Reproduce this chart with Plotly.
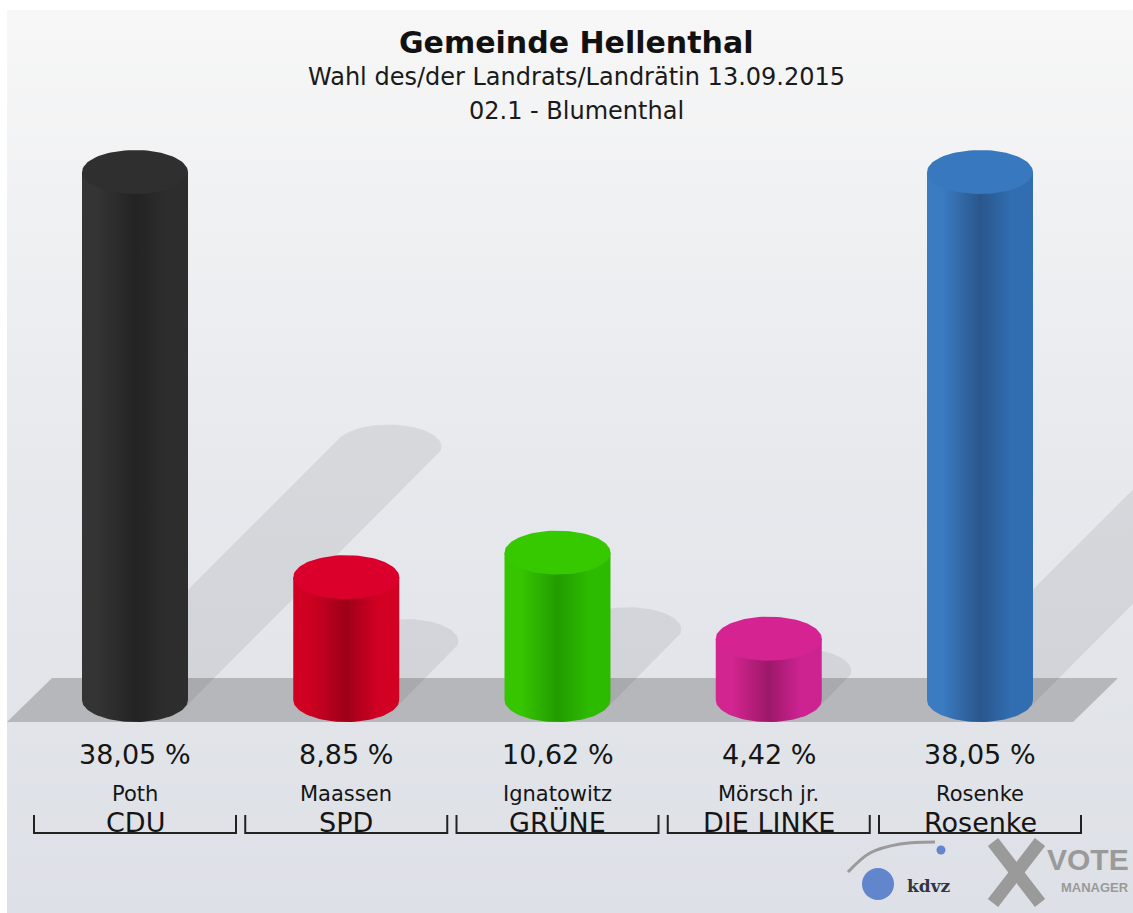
import numpy as np
import plotly.graph_objects as go

# ---------------- data ----------------
candidates = ["Poth", "Maassen", "Ignatowitz", "Mörsch jr.", "Rosenke"]
parties = ["CDU", "SPD", "GRÜNE", "DIE LINKE", "Rosenke"]
values = [38.05, 8.85, 10.62, 4.42, 38.05]

title_text = "Gemeinde Hellenthal"
subtitle_text = "Wahl des/der Landrats/Landrätin 13.09.2015"
district_text = "02.1 - Blumenthal"

# ---------------- styles ----------------
body_left = ["#343434", "#cf0021", "#36c600", "#d3258f", "#3a7bc2"]
body_dark = ["#232323", "#9e0019", "#229c00", "#9c1869", "#2a568c"]
body_right = ["#2d2d2d", "#d20023", "#2dbb00", "#cd2391", "#316eb1"]
top_color = ["#2f2f2f", "#da002b", "#36c900", "#d52491", "#3878bf"]

PAGE_W, PAGE_H = 1133, 913
OFF = 0                              # body margin removed via post_script
W, H = PAGE_W - OFF, PAGE_H - OFF    # figure size
X0, DX = 135.0, 211.25     # page pixel of first column centre, spacing between columns
Y0, DY = 700.0, 13.876     # page pixel of 0 %, pixels per percent
R_PX, RY_PX = 53.0, 22.0   # cylinder radius / ellipse half height in pixels
SHADOW_RATIO = 0.48


def xd(px):
    return (px - X0) / DX


def yd(py):
    return (Y0 - py) / DY


rx = R_PX / DX
ry = RY_PX / DY


def hull(points):
    pts = sorted(set(points))
    def cross(o, a, b):
        return (a[0] - o[0]) * (b[1] - o[1]) - (a[1] - o[1]) * (b[0] - o[0])
    lower, upper = [], []
    for p in pts:
        while len(lower) >= 2 and cross(lower[-2], lower[-1], p) <= 0:
            lower.pop()
        lower.append(p)
    for p in reversed(pts):
        while len(upper) >= 2 and cross(upper[-2], upper[-1], p) <= 0:
            upper.pop()
        upper.append(p)
    return lower[:-1] + upper[:-1]


fig = go.Figure()

# background panel with vertical gradient
fig.add_trace(go.Scatter(
    x=[xd(7), xd(PAGE_W), xd(PAGE_W), xd(7), xd(7)],
    y=[yd(PAGE_H), yd(PAGE_H), yd(10), yd(10), yd(PAGE_H)],
    mode="lines", line=dict(width=0), fill="toself",
    fillgradient=dict(type="vertical",
                      colorscale=[[0, "#dde0e6"], [0.5, "#e7e9ed"], [1, "#f7f7f7"]]),
    hoverinfo="skip", showlegend=False))

# floor band
fig.add_trace(go.Scatter(
    x=[xd(7), xd(1073), xd(1118), xd(52), xd(7)],
    y=[-ry, -ry, ry, ry, -ry],
    mode="lines", line=dict(width=0), fill="toself", fillcolor="#b6b7ba",
    hoverinfo="skip", showlegend=False))

t_full = np.linspace(0, 2 * np.pi, 90)

# shadows
for i, v in enumerate(values):
    Ly = SHADOW_RATIO * v
    Lx = Ly * DY / DX
    pts = [(i + rx * np.cos(t), ry * np.sin(t)) for t in t_full]
    pts += [(i + Lx + rx * np.cos(t), Ly + ry * np.sin(t)) for t in t_full]
    hp = hull([(round(a, 6), round(b, 6)) for a, b in pts])
    hp.append(hp[0])
    fig.add_trace(go.Scatter(
        x=[p[0] for p in hp], y=[p[1] for p in hp],
        mode="lines", line=dict(width=0), fill="toself",
        fillcolor="rgba(40,45,60,0.09)",
        hoverinfo="skip", showlegend=False))

# cylinders
t_bot = np.linspace(np.pi, 2 * np.pi, 50)
for i, v in enumerate(values):
    xs = list(i + rx * np.cos(t_bot)) + [i + rx, i - rx, i - rx]
    ys = list(ry * np.sin(t_bot)) + [v, v, 0]
    fig.add_trace(go.Scatter(
        x=xs, y=ys, mode="lines", line=dict(width=0), fill="toself",
        fillgradient=dict(type="horizontal",
                          colorscale=[[0, body_left[i]], [0.15, body_left[i]],
                                      [0.5, body_dark[i]], [0.8, body_right[i]],
                                      [1, body_right[i]]]),
        hoverinfo="skip", showlegend=False))
    fig.add_trace(go.Scatter(
        x=list(i + rx * np.cos(t_full)), y=list(v + ry * np.sin(t_full)),
        mode="lines", line=dict(width=0), fill="toself", fillcolor=top_color[i],
        hoverinfo="skip", showlegend=False))

annotations = []
shapes = []
FONT = "DejaVu Sans"
TXT = "#151515"


def note(px, py, text, size, color=TXT, family=FONT, xanchor="center", weight="normal"):
    annotations.append(dict(x=xd(px), y=yd(py), xref="x", yref="y", text=text,
                            xanchor=xanchor, yanchor="middle", showarrow=False,
                            font=dict(family=family, size=size, color=color, weight=weight)))


for i, v in enumerate(values):
    label = f"{v:.2f}".replace(".", ",") + " %"
    annotations.append(dict(x=i, y=yd(754), xref="x", yref="y", text=label,
                            xanchor="center", yanchor="middle",
                            showarrow=False, font=dict(family=FONT, size=27, color=TXT)))
    annotations.append(dict(x=i, y=yd(794), xref="x", yref="y", text=candidates[i],
                            xanchor="center", yanchor="middle",
                            showarrow=False, font=dict(family=FONT, size=21, color=TXT)))
    annotations.append(dict(x=i, y=yd(822), xref="x", yref="y", text=parties[i],
                            xanchor="center", yanchor="middle",
                            showarrow=False, font=dict(family=FONT, size=27, color=TXT)))
    half = 101 / DX
    shapes.append(dict(type="path", xref="x", yref="y",
                       path=f"M {i-half},{yd(815)} L {i-half},{yd(833)} L {i+half},{yd(833)} L {i+half},{yd(815)}",
                       line=dict(color="#222222", width=2)))

# titles
note(576, 42, title_text, 30, color="#111111", weight="bold")
note(576, 77, subtitle_text, 24, color="#1a1a1a")
note(576, 111, district_text, 24, color="#1a1a1a")

# logo (decorative)
fig.add_trace(go.Scatter(
    x=[xd(848), xd(870), xd(900), xd(935)], y=[yd(872), yd(853), yd(844), yd(842)],
    mode="lines", line=dict(color="#9a9a9a", width=3, shape="spline"),
    hoverinfo="skip", showlegend=False))
fig.add_trace(go.Scatter(
    x=[xd(878), xd(941)], y=[yd(884), yd(850)], mode="markers",
    marker=dict(color=["#2e5fc0", "#2e5fc0"], size=[32, 9], line=dict(width=0)),
    hoverinfo="skip", showlegend=False))
note(905, 886, "<b>kdvz</b>", 17, color="#333344", family="DejaVu Serif", xanchor="left")
for a, b, c, d in [(993, 842, 1040, 903), (1040, 842, 993, 903)]:
    shapes.append(dict(type="line", xref="x", yref="y",
                       x0=xd(a), y0=yd(b), x1=xd(c), y1=yd(d),
                       line=dict(color="#9a9a9a", width=13)))
note(1131, 859, "<b>VOTE</b>", 30, color="#9a9a9a",
     family="Liberation Sans Narrow, Liberation Sans", xanchor="right")
note(1131, 887, "<b>MANAGER</b>", 13, color="#9a9a9a",
     family="Liberation Sans Narrow, Liberation Sans", xanchor="right")

fig.update_layout(
    width=W, height=H, autosize=False,
    margin=dict(l=0, r=0, t=0, b=0),
    paper_bgcolor="white", plot_bgcolor="white",
    xaxis=dict(range=[xd(OFF), xd(PAGE_W)], visible=False, fixedrange=True),
    yaxis=dict(range=[yd(PAGE_H), yd(OFF)], visible=False, fixedrange=True),
    showlegend=False,
    annotations=annotations, shapes=shapes,
)

fig.write_html("out.html",
               config={"displayModeBar": False, "staticPlot": True},
               post_script="document.body.style.margin='0px';document.body.style.overflow='hidden';")
